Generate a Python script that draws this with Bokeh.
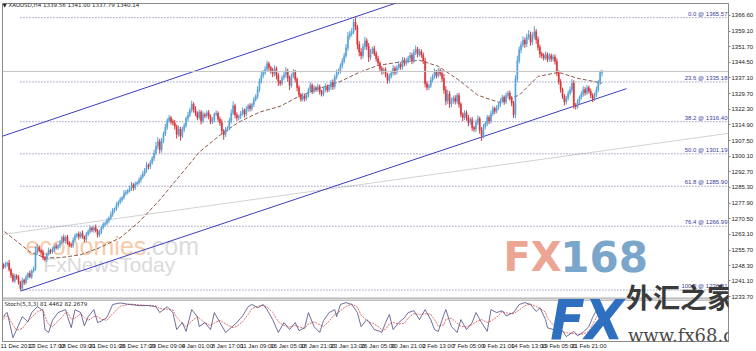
from bokeh.plotting import figure
from bokeh.models import Range1d, FixedTicker, Span, Label, PrintfTickFormatter
from bokeh.core.properties import value
from bokeh.embed import file_html
from bokeh.resources import INLINE

# ---------------- data ----------------
header_text = "\u25bc XAUUSD,H4  1339.56 1341.00 1337.79 1340.14"
stoch_text = "Stoch(5,3,3) 81.4462 82.2679"

first_open = 1248.6
close = [
    1247.8, 1249.0, 1249.6, 1246.5, 1243.8, 1241.2,
    1243.5, 1242.6, 1240.2, 1237.6, 1241.5, 1240.4,
    1243.0, 1244.6, 1243.1, 1245.8, 1246.9, 1254.8,
    1256.9, 1255.4, 1254.6, 1252.0, 1251.3, 1253.8,
    1255.6, 1254.9, 1256.0, 1257.4, 1256.8, 1257.9,
    1259.2, 1261.6, 1260.1, 1261.9, 1259.0, 1258.2,
    1257.8, 1260.4, 1262.5, 1263.3, 1262.0, 1263.6,
    1261.9, 1260.8, 1263.2, 1264.6, 1266.1, 1265.2,
    1266.3, 1264.8, 1262.9, 1264.1, 1266.5, 1267.8,
    1268.4, 1269.6, 1270.8, 1272.5, 1274.6, 1275.2,
    1277.0, 1278.3, 1279.6, 1280.4, 1282.5, 1283.1,
    1283.8, 1284.9, 1286.5, 1285.2, 1287.0, 1287.6,
    1288.9, 1290.3, 1291.7, 1293.5, 1295.8, 1295.2,
    1297.0, 1299.1, 1301.6, 1304.8, 1306.9, 1303.2,
    1307.4, 1310.6, 1313.8, 1316.9, 1318.2, 1316.5,
    1315.8, 1314.2, 1310.4, 1312.9, 1309.6, 1312.7,
    1314.6, 1317.9, 1319.5, 1321.8, 1324.6, 1322.3,
    1320.5, 1318.4, 1320.9, 1316.8, 1319.7, 1319.2,
    1320.6, 1318.9, 1316.4, 1317.3, 1319.8, 1320.4,
    1317.6, 1315.9, 1312.1, 1310.3, 1312.6, 1313.4,
    1316.8, 1320.5, 1323.9, 1319.6, 1318.2, 1318.9,
    1320.3, 1321.8, 1319.9, 1322.4, 1323.9, 1322.6,
    1324.5, 1326.8, 1328.3, 1331.6, 1335.4, 1338.3,
    1339.6, 1341.2, 1343.8, 1342.0, 1340.6,
    1339.1, 1341.5, 1338.2, 1335.3, 1334.6, 1337.2,
    1338.6, 1340.4, 1336.9, 1333.5, 1338.2, 1339.7,
    1336.4, 1332.5, 1329.1, 1327.0, 1328.6, 1327.4,
    1328.9, 1331.2, 1333.6, 1330.8, 1332.4, 1331.8,
    1332.9, 1330.6, 1329.4, 1331.6, 1333.1, 1331.4,
    1332.8, 1334.9, 1333.0, 1337.5, 1339.6, 1340.2,
    1342.8, 1344.9, 1347.6, 1351.3, 1356.8, 1358.0,
    1358.9, 1363.5, 1361.2, 1352.9, 1349.3, 1347.6,
    1351.8, 1354.6, 1352.0, 1346.8, 1349.5, 1350.9,
    1348.6, 1346.2, 1344.1, 1341.5, 1339.9, 1341.0,
    1338.6, 1335.9, 1337.8, 1339.4, 1341.6, 1339.8,
    1341.9, 1343.5, 1342.2, 1345.6, 1344.0, 1345.2,
    1346.5, 1347.8, 1345.0, 1349.2, 1350.6, 1348.3,
    1349.6, 1347.9, 1345.1, 1334.4, 1332.6, 1333.4,
    1336.1, 1337.8, 1339.9, 1338.2, 1340.5, 1339.2,
    1336.8, 1331.4, 1326.2, 1329.5, 1324.8, 1326.2,
    1327.5, 1326.0, 1328.8, 1324.6, 1319.9, 1318.4,
    1320.6, 1318.2, 1315.9, 1317.4, 1313.6, 1312.9,
    1316.0, 1317.8, 1312.5, 1309.8, 1313.9, 1315.6,
    1318.4, 1316.7, 1320.2, 1322.6, 1321.3, 1323.1,
    1324.6, 1326.2, 1327.9, 1325.8, 1328.8, 1329.9,
    1327.6, 1325.1, 1319.8, 1336.5, 1345.2, 1350.4,
    1352.8, 1354.9, 1353.1, 1356.4, 1357.6, 1354.0,
    1356.8, 1358.9, 1355.2, 1351.6, 1348.4, 1347.7,
    1346.5, 1348.2, 1345.9, 1347.6, 1346.1, 1347.0,
    1344.8, 1339.5, 1335.2, 1331.6, 1328.4, 1325.8,
    1327.6, 1329.8, 1331.5, 1334.6, 1324.2, 1323.6,
    1325.9, 1327.8, 1329.4, 1331.6, 1330.1, 1332.4,
    1330.8, 1328.9, 1327.2, 1329.0, 1331.6, 1335.0,
    1339.56, 1340.14,
]
wick_up = [
    0.9, 1.2, 0.7, 1.4, 0.6, 1.1,
    1.0, 0.8, 1.3, 0.9, 1.2, 0.7,
    1.1, 0.6, 1.4, 0.8, 1.0, 2.6,
    1.8, 1.0, 0.7, 1.2, 0.9, 0.8,
    1.3, 0.7, 1.1, 0.9, 1.5, 0.6,
    1.2, 0.8, 1.4, 0.7, 1.0, 0.9,
    0.8, 1.3, 1.0, 0.6, 1.2, 0.9,
    1.4, 0.7, 1.1, 0.9, 1.3, 0.8,
    1.0, 1.5, 0.8, 1.2, 0.7, 1.1,
    0.9, 1.2, 0.8, 1.4, 1.0, 0.7,
    1.3, 0.9, 1.1, 0.8, 1.5, 1.0,
    0.8, 1.2, 1.4, 0.9, 1.1, 0.7,
    1.1, 0.9, 1.3, 1.0, 1.6, 0.8,
    1.2, 1.0, 1.5, 2.0, 2.2, 1.4,
    1.3, 1.1, 1.6, 1.2, 1.4, 0.9,
    1.0, 1.4, 0.8, 1.7, 1.1, 1.3,
    1.2, 0.9, 1.5, 1.1, 1.8, 1.0,
    1.4, 0.8, 1.2, 1.0, 1.6, 0.9,
    1.1, 1.3, 0.9, 1.2, 1.0, 1.4,
    0.9, 1.2, 1.6, 0.8, 1.3, 1.0,
    1.5, 1.8, 2.1, 1.0, 1.2, 0.9,
    1.1, 1.4, 0.8, 1.3, 1.0, 1.2,
    0.9, 1.3, 1.1, 1.6, 1.4, 1.8,
    1.2, 1.5, 1.4, 1.0, 0.9,
    1.3, 1.6, 1.0, 1.2, 0.8, 1.1,
    1.4, 1.8, 1.0, 1.3, 1.1, 1.6,
    1.2, 0.9, 1.1, 0.8, 1.4, 1.0,
    1.1, 1.3, 1.5, 0.9, 1.2, 0.8,
    1.4, 1.0, 0.8, 1.2, 1.3, 0.9,
    1.0, 1.2, 1.5, 1.1, 1.4, 1.3,
    1.2, 1.6, 1.4, 1.8, 2.0, 1.5,
    1.7, 1.4, 2.1, 1.0, 1.6, 1.8,
    1.5, 1.9, 1.2, 1.6, 1.3, 1.0,
    1.4, 1.1, 1.3, 0.9, 1.2, 1.0,
    1.1, 0.9, 1.4, 1.2, 1.6, 1.0,
    1.3, 1.5, 1.0, 1.4, 1.1, 1.2,
    1.0, 1.4, 1.2, 1.5, 1.8, 1.1,
    1.3, 1.0, 1.2, 1.5, 1.1, 0.9,
    1.4, 1.2, 1.6, 1.0, 1.3, 1.1,
    1.5, 2.2, 1.8, 2.0, 1.4, 1.6,
    1.2, 1.4, 1.1, 1.3, 1.0, 0.9,
    1.3, 1.1, 1.4, 1.0, 1.2, 0.8,
    1.4, 1.6, 1.0, 1.3, 1.5, 1.1,
    1.2, 1.0, 1.5, 1.3, 0.9, 1.1,
    1.0, 1.3, 1.2, 0.9, 1.4, 1.1,
    1.2, 0.9, 1.1, 1.8, 2.4, 1.6,
    1.5, 1.9, 1.2, 1.6, 2.0, 1.4,
    1.8, 2.6, 1.3, 1.5, 1.2, 1.0,
    1.1, 1.4, 0.9, 1.2, 1.0, 1.3,
    1.2, 1.5, 1.1, 1.3, 0.9, 1.0,
    1.1, 1.3, 1.6, 1.9, 1.4, 1.0,
    1.2, 1.0, 1.4, 1.6, 1.1, 1.3,
    1.0, 1.2, 0.9, 1.1, 1.4, 1.2,
    1.0, 0.86,
]
wick_dn = [
    1.0, 0.7, 1.2, 0.9, 1.3, 0.8,
    1.1, 0.9, 0.8, 0.8, 1.0, 1.2,
    0.9, 1.3, 0.7, 1.1, 0.8, 1.0,
    1.2, 0.8, 1.4, 1.0, 0.9, 1.3,
    0.7, 1.1, 0.9, 1.2, 0.8, 1.0,
    1.3, 0.9, 1.0, 1.4, 0.8, 1.1,
    1.0, 1.2, 0.7, 1.1, 1.3, 0.9,
    0.8, 1.4, 1.0, 0.9, 1.2, 1.1,
    1.2, 0.8, 1.3, 1.0, 0.9, 1.1,
    1.0, 0.9, 1.2, 0.8, 1.1, 1.3,
    0.9, 1.2, 1.0, 1.3, 0.8, 1.1,
    1.1, 0.9, 1.2, 1.4, 1.0, 0.8,
    1.0, 1.3, 0.9, 1.1, 1.2, 1.4,
    1.2, 1.0, 1.3, 1.1, 1.5, 1.8,
    1.4, 1.2, 1.0, 1.3, 1.1, 1.5,
    1.2, 1.6, 2.0, 1.1, 2.2, 1.0,
    1.3, 1.1, 1.4, 1.0, 1.2, 1.6,
    1.5, 1.3, 1.0, 1.7, 1.1, 1.2,
    1.0, 1.4, 1.2, 1.1, 1.3, 0.9,
    1.3, 1.5, 1.8, 2.4, 1.2, 1.0,
    1.1, 1.3, 1.0, 1.6, 1.4, 1.2,
    1.2, 1.0, 1.5, 1.1, 1.3, 1.4,
    1.0, 1.2, 0.9, 1.1, 1.3, 1.0,
    1.3, 1.1, 1.2, 1.5, 1.4,
    1.6, 1.2, 1.8, 2.0, 1.3, 1.1,
    1.2, 1.4, 1.6, 2.1, 1.0, 1.3,
    1.5, 1.7, 1.3, 1.2, 1.0, 1.4,
    1.1, 1.0, 1.2, 1.4, 1.1, 1.3,
    1.2, 1.4, 1.1, 1.0, 1.3, 1.2,
    1.0, 1.3, 1.6, 1.1, 1.2, 1.0,
    1.1, 1.3, 1.0, 1.2, 1.4, 1.6,
    1.4, 1.2, 1.5, 2.4, 2.0, 1.8,
    1.3, 1.5, 1.7, 2.2, 1.4, 1.2,
    1.2, 1.4, 1.1, 1.6, 1.3, 1.0,
    1.3, 1.5, 1.2, 1.0, 1.1, 1.4,
    1.1, 1.0, 1.3, 1.2, 1.4, 1.0,
    1.2, 1.1, 1.4, 1.0, 1.3, 1.5,
    1.1, 1.3, 1.5, 1.8, 1.4, 1.2,
    1.0, 1.2, 1.1, 1.4, 1.0, 1.3,
    1.6, 1.8, 2.0, 1.4, 1.9, 1.5,
    1.3, 1.5, 1.2, 1.6, 1.4, 1.8,
    1.2, 1.4, 1.7, 1.1, 1.6, 1.3,
    1.5, 1.2, 1.8, 2.5, 1.4, 1.1,
    1.3, 1.5, 1.1, 1.2, 1.4, 1.0,
    1.1, 1.2, 1.0, 1.4, 1.1, 1.3,
    1.2, 1.4, 1.6, 1.8, 1.5, 1.3,
    1.6, 1.2, 1.8, 1.4, 1.3, 1.7,
    1.3, 1.5, 1.9, 1.6, 1.8, 1.4,
    1.2, 1.0, 1.3, 1.1, 1.4, 1.2,
    1.4, 1.6, 1.3, 1.5, 1.2, 1.7,
    1.3, 1.1, 1.0, 1.4, 1.6, 1.4,
    1.1, 1.3, 1.0, 1.2, 1.4, 1.1,
    1.2, 1.4, 1.6, 1.1, 1.0, 1.3,
    1.2, 1.77,
]
bid_price = 1340.14

date_labels = ["11 Dec 2017", "13 Dec 17:00", "18 Dec 09:00", "21 Dec 01:00",
               "26 Dec 17:00", "29 Dec 09:00", "4 Jan 01:00", "8 Jan 17:00",
               "11 Jan 09:00", "16 Jan 05:00", "18 Jan 21:00", "23 Jan 13:00",
               "26 Jan 05:00", "30 Jan 21:00", "2 Feb 13:00", "7 Feb 05:00",
               "9 Feb 21:00", "14 Feb 13:00", "19 Feb 05:00", "21 Feb 21:00"]
date_label_bars = [0, 16, 32, 48, 64, 80, 96, 112, 128, 144, 160, 176,
                   192, 208, 224, 240, 256, 272, 288, 304]

price_ticks = [1366.60, 1359.10, 1351.70, 1344.50, 1337.10, 1329.70, 1322.30,
               1314.90, 1307.50, 1300.10, 1292.70, 1285.30, 1277.90, 1270.50,
               1263.10, 1255.70, 1248.30, 1241.10, 1233.70]

fib_levels = [0.0, 23.6, 38.2, 50.0, 61.8, 76.4, 100.0]
fib_prices = [1365.57, 1335.18, 1316.40, 1301.19, 1285.90, 1266.99, 1236.81]
fib_start_bar = 9

ma_bar = [-2, 6, 14, 22, 30, 41, 51, 62, 72, 83, 94, 104, 115, 125, 136, 147,
          157, 168, 178, 189, 199, 210, 221, 231, 242, 252, 263, 274, 284, 295,
          305, 316, 318]
ma_price = [1266.2, 1260.6, 1254.9, 1252.1, 1252.1, 1253.5, 1256.8, 1261.5,
            1269.0, 1279.4, 1291.2, 1302.0, 1310.0, 1316.2, 1320.9, 1323.7,
            1328.4, 1332.2, 1335.0, 1339.7, 1343.0, 1344.5, 1345.4, 1342.6,
            1336.0, 1328.9, 1325.6, 1328.9, 1337.8, 1339.7, 1336.9, 1335.0,
            1334.6]

upper_channel_bar = [-2, 210]
upper_channel_price = [1309.1, 1372.9]
lower_channel_bar = [9, 331]
lower_channel_price = [1236.3, 1332.0]
trend_bar = [-2, 386]
trend_price = [1262.9, 1311.0]

stoch_bar = [0, 1, 2, 5, 7, 10, 13, 15, 18, 21, 22, 24, 26, 29, 33, 34, 36, 38,
             41, 43, 45, 48, 50, 52, 55, 58, 62, 67, 72, 77, 81, 83, 87, 90, 92,
             95, 97, 100, 103, 104, 107, 110, 112, 115, 118, 122, 124, 127, 130,
             132, 135, 138, 140, 143, 146, 149, 152, 155, 157, 160, 162, 165,
             168, 170, 173, 176, 177, 179, 182, 185, 188, 190, 193, 194, 197,
             200, 201, 203, 205, 207, 210, 213, 215, 218, 221, 224, 227, 229,
             231, 234, 235, 238, 241, 243, 246, 249, 251, 254, 257, 259, 262,
             265, 267, 271, 274, 277, 280, 283, 285, 288, 289, 292, 295, 297,
             299, 303, 305, 308, 311, 313, 316, 318]
stoch_main = [60, 70, 73, 5, 27, 62, 48, 73, 89, 78, 27, 19, 52, 73, 81, 62, 32,
              81, 73, 37, 62, 81, 46, 50, 60, 95, 99, 95, 92, 92, 89, 73, 89,
              73, 27, 46, 22, 81, 62, 35, 46, 27, 73, 46, 19, 37, 46, 64, 89,
              95, 86, 95, 81, 54, 19, 46, 27, 46, 24, 32, 73, 35, 19, 51, 73,
              81, 62, 95, 100, 95, 73, 35, 54, 49, 27, 22, 19, 46, 68, 27, 46,
              59, 73, 78, 54, 81, 54, 27, 22, 68, 81, 35, 19, 54, 27, 46, 73,
              46, 22, 81, 73, 78, 64, 73, 95, 100, 95, 76, 86, 54, 32, 27, 19,
              24, 8, 22, 10, 20, 35, 60, 88, 81.4462]
stoch_signal = [55, 60, 66, 40, 25, 30, 50, 60, 75, 82, 62, 40, 35, 50, 72, 74,
                55, 58, 70, 60, 52, 62, 62, 55, 52, 70, 90, 96, 94, 92, 91, 84,
                82, 80, 60, 45, 35, 50, 62, 58, 45, 38, 45, 52, 42, 32, 36, 48,
                68, 84, 90, 92, 88, 74, 48, 38, 34, 38, 34, 30, 42, 48, 40, 35,
                50, 68, 70, 78, 90, 96, 88, 66, 52, 48, 42, 32, 24, 28, 42, 46,
                42, 44, 58, 70, 68, 70, 68, 54, 36, 40, 55, 58, 44, 36, 34, 40,
                48, 54, 46, 50, 60, 76, 72, 70, 80, 92, 96, 90, 84, 74, 58, 40,
                28, 22, 18, 16, 14, 15, 22, 40, 70, 82.2679]

# ---------------- derived candle geometry ----------------
n = len(close)
bars = list(range(n))
opens = [first_open] + close[:-1]
highs = [max(o, c) + w for o, c, w in zip(opens, close, wick_up)]
lows = [min(o, c) - w for o, c, w in zip(opens, close, wick_dn)]
tops = [max(o, c) for o, c in zip(opens, close)]
bottoms = [min(o, c) for o, c in zip(opens, close)]
BULL, BEAR = "#5aa3d6", "#d8363c"
colors = [BULL if c >= o else BEAR for o, c in zip(opens, close)]

# ---------------- layout helpers (pixel -> data) ----------------
PX_PER_BAR = 1.89
PX_PER_USD = 2.122


def bx(px):
    return (px - 3) / PX_PER_BAR


def py(px):
    return 1366.6 - (px - 15) / PX_PER_USD


def sy(px):
    return (340 - px) / 0.37


W, H = 756, 351
x_start, x_end = bx(2), bx(731)

p = figure(width=W, height=H, output_backend="svg", toolbar_location=None,
           x_range=Range1d(x_start, x_end), y_range=Range1d(py(342), py(3)),
           y_axis_location="right", x_axis_location="below")
p.extra_y_ranges = {"stoch": Range1d(sy(342), sy(3))}
p.min_border_left = 2
p.min_border_top = 3
p.min_border_right = 25
p.min_border_bottom = 9
p.background_fill_color = "white"
p.border_fill_color = "white"
p.outline_line_color = "#8a8a8a"
p.xgrid.visible = False
p.ygrid.visible = False

font = value("Liberation Sans")

# axes
ya = p.yaxis[0]
ya.ticker = FixedTicker(ticks=price_ticks)
ya.formatter = PrintfTickFormatter(format="%.2f")
ya.major_label_text_font = "Liberation Sans"
ya.major_label_text_font_size = "6px"
ya.major_label_text_color = "#222222"
ya.major_tick_out = 2
ya.major_tick_in = 0
ya.minor_tick_out = 0
ya.minor_tick_in = 0
ya.major_label_standoff = 1
ya.axis_line_color = "#8a8a8a"
ya.major_tick_line_color = "#8a8a8a"

xa = p.xaxis[0]
tick_pos = [b + 7 for b in date_label_bars]
xa.ticker = FixedTicker(ticks=tick_pos)
xa.major_label_overrides = {t: lab for t, lab in zip(tick_pos, date_labels)}
xa.major_label_text_font = "Liberation Sans"
xa.major_label_text_font_size = "6px"
xa.major_label_text_color = "#222222"
xa.major_tick_out = 0
xa.major_tick_in = 0
xa.minor_tick_out = 0
xa.minor_tick_in = 0
xa.major_label_standoff = 1
xa.axis_line_color = "#8a8a8a"

# watermarks (behind)
p.text(x=[bx(25)], y=[py(246)], text=["economies"], text_font=font,
       text_font_size="25px", text_color="#f6cbab", text_baseline="middle")
p.text(x=[bx(145)], y=[py(246)], text=[".com"], text_font=font,
       text_font_size="25px", text_color="#dcdcdc", text_baseline="middle")
p.text(x=[bx(43)], y=[py(265)], text=["FxNewsToday"], text_font=font,
       text_font_size="21px", text_color="#dadada", text_baseline="middle")
p.text(x=[bx(505)], y=[py(257)], text=["FX"], text_font=value("DejaVu Sans"),
       text_font_style="bold", text_font_size="40px", text_color="#eba592",
       text_baseline="middle")
p.text(x=[bx(562)], y=[py(257)], text=["168"], text_font=value("DejaVu Sans"),
       text_font_style="bold", text_font_size="42px", text_color="#7aa6cb",
       text_baseline="middle")

# bid line, trend line
p.add_layout(Span(location=bid_price, dimension="width", line_color="#c4c4c4",
                  line_width=1))
p.line(trend_bar, trend_price, line_color="#d2d2d2", line_width=1)

# fibonacci levels
p.segment(x0=[fib_start_bar] * len(fib_prices), y0=fib_prices,
          x1=[x_end] * len(fib_prices), y1=fib_prices,
          line_color="#6a6aaa", line_dash="1 2", line_width=1)
p.text(x=[bx(730)] * len(fib_prices), y=fib_prices,
       text=[f"{lv:.1f} @ {pr:.2f}" for lv, pr in zip(fib_levels, fib_prices)],
       text_font=font, text_font_size="6px", text_color="#3c3c96",
       text_align="right", text_baseline="bottom", y_offset=-1)

# moving average
p.line(ma_bar, ma_price, line_color="#8a5a4a", line_dash="4 2", line_width=1)

# channel
p.line(upper_channel_bar, upper_channel_price, line_color="#3c3cc0", line_width=1)
p.line(lower_channel_bar, lower_channel_price, line_color="#3c3cc0", line_width=1)

# candles
p.segment(x0=bars, y0=lows, x1=bars, y1=highs, line_color=colors, line_width=1)
p.vbar(x=bars, width=0.6, top=tops, bottom=bottoms, fill_color=colors,
       line_color=colors, line_width=0.5)

# panel separator
p.add_layout(Span(location=py(298.5), dimension="width", line_color="#9a9a9a",
                  line_width=1))
p.add_layout(Span(location=sy(300.5), dimension="width", line_color="#9a9a9a",
                  line_width=1, y_range_name="stoch"))

# stochastic
p.line(stoch_bar, stoch_signal, y_range_name="stoch", line_color="#e07070",
       line_dash="2 1", line_width=1)
p.line(stoch_bar, stoch_main, y_range_name="stoch", line_color="#4a4a80",
       line_width=0.8)

# texts
p.add_layout(Label(x=bx(2), y=py(5), text=header_text, text_font="DejaVu Sans",
                   text_font_size="5.5px", text_color="#222222", text_baseline="middle"))
p.add_layout(Label(x=bx(4), y=py(304), text=stoch_text, text_font="DejaVu Sans",
                   text_font_size="5.5px", text_color="#222222", text_baseline="middle"))
p.add_layout(Label(x=x_end, y=bid_price, x_offset=2, text=f"{bid_price:.2f}",
                   text_font="DejaVu Sans", text_font_size="5.5px",
                   text_color="white", background_fill_color="black",
                   text_baseline="middle"))

# logo (overlay)
p.add_layout(Label(x=bx(552), y=py(320), text="FX", text_font="DejaVu Sans Condensed",
                   text_font_style="bold italic", text_font_size="56px",
                   text_color="#2f6fbf", text_baseline="middle"))
p.add_layout(Label(x=bx(628), y=py(297), text="外汇之家",
                   text_font="Noto Sans CJK SC", text_font_style="bold",
                   text_font_size="27px", text_color="#3a3a3a",
                   text_baseline="middle"))
p.add_layout(Label(x=bx(630), y=py(336), text="www.fx68.com",
                   text_font="DejaVu Serif", text_font_size="18px",
                   text_color="#4a4a4a", text_baseline="middle"))

open("out.html", "w").write(file_html(p, INLINE))
